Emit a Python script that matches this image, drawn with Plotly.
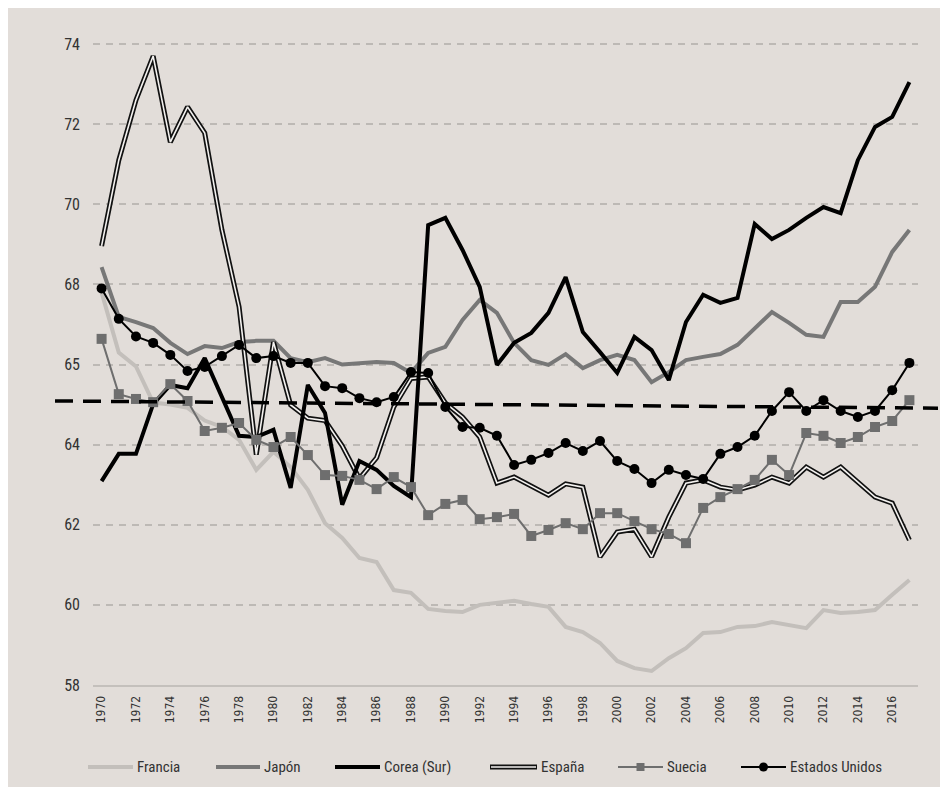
import plotly.graph_objects as go

years = list(range(1970, 2018))

francia = [67.8, 66.3, 65.95, 65.05, 65.0, 64.92, 64.6, 64.44, 64.12, 63.37,
           63.82, 63.44, 62.87, 62.04, 61.67, 61.17, 61.07, 60.37, 60.3, 59.9,
           59.85, 59.82, 60.0, 60.05, 60.1, 60.02, 59.95, 59.45, 59.32, 59.05,
           58.6, 58.42, 58.35, 58.67, 58.92, 59.3, 59.32, 59.45, 59.47, 59.57,
           59.5, 59.42, 59.87, 59.8, 59.82, 59.87, 60.25, 60.62]
japon = [68.43, 67.19, 67.06, 66.91, 66.54, 66.26, 66.46, 66.41, 66.56, 66.59,
         66.59, 66.16, 66.06, 66.16, 66.0, 66.04, 66.06, 66.04, 65.79, 66.29,
         66.44, 67.11, 67.61, 67.29, 66.54, 66.11, 65.99, 66.26, 65.91, 66.11,
         66.24, 66.11, 65.56, 65.81, 66.11, 66.19, 66.26, 66.49, 66.91, 67.31,
         67.04, 66.74, 66.69, 67.56, 67.56, 67.94, 68.81, 69.36]
corea = [63.09, 63.77, 63.77, 65.01, 65.49, 65.41, 66.16, 65.16, 64.22, 64.19,
         64.37, 62.92, 65.49, 64.79, 62.5, 63.59, 63.37, 62.97, 62.69, 69.48,
         69.66, 68.86, 67.94, 65.99, 66.54, 66.79, 67.29, 68.18, 66.81, 66.31,
         65.79, 66.69, 66.36, 65.61, 67.06, 67.74, 67.54, 67.66, 69.51, 69.13,
         69.36, 69.66, 69.93, 69.78, 71.1, 71.93, 72.18, 73.05]
espana = [68.96, 71.1, 72.6, 73.7, 71.55, 72.43, 71.78, 69.36, 67.44, 63.75,
          66.56, 64.99, 64.66, 64.6, 63.97, 63.15, 63.67, 64.94, 65.65, 65.69,
          65.04, 64.69, 64.19, 63.04, 63.19, 62.97, 62.74, 63.02, 62.94, 61.2,
          61.82, 61.89, 61.2, 62.19, 63.04, 63.12, 62.94, 62.87, 62.99, 63.19,
          63.04, 63.44, 63.19, 63.44, 63.07, 62.69, 62.54, 61.62]
suecia = [66.64, 65.26, 65.14, 65.06, 65.51, 65.09, 64.34, 64.42, 64.54, 64.12,
          63.94, 64.19, 63.74, 63.24, 63.22, 63.12, 62.89, 63.19, 62.94, 62.24,
          62.52, 62.62, 62.14, 62.19, 62.27, 61.72, 61.87, 62.04, 61.89, 62.29,
          62.29, 62.09, 61.89, 61.77, 61.54, 62.42, 62.69, 62.89, 63.12, 63.62,
          63.24, 64.29, 64.22, 64.04, 64.19, 64.44, 64.59, 65.11]
estados_unidos = [67.9, 67.14, 66.7, 66.54, 66.24, 65.84, 65.94, 66.21, 66.49, 66.16,
                  66.21, 66.04, 66.04, 65.46, 65.41, 65.16, 65.06, 65.19, 65.81, 65.79,
                  64.94, 64.44, 64.42, 64.22, 63.49, 63.62, 63.79, 64.04, 63.84, 64.09,
                  63.59, 63.39, 63.04, 63.37, 63.24, 63.14, 63.77, 63.94, 64.22, 64.84,
                  65.31, 64.84, 65.11, 64.84, 64.69, 64.84, 65.36, 66.04]

y_tickvals = [58, 60, 62, 64, 66, 68, 70, 72, 74]
y_ticktext = ["58", "60", "62", "64", "65", "68", "70", "72", "74"]
x_tickvals = list(range(1970, 2017, 2))

legend_names = ["Francia", "Japón", "Corea (Sur)", "España", "Suecia", "Estados Unidos"]

BG = "#e2ddd9"
FONT = "Liberation Sans Narrow, Roboto Condensed, Arial Narrow, Liberation Sans, sans-serif"
C_FR = "#c3bfbb"
C_JP = "#777777"
C_SE = "#6e6e6e"

fig = go.Figure()
fig.add_trace(go.Scatter(x=years, y=francia, mode="lines", line=dict(color=C_FR, width=4)))
fig.add_trace(go.Scatter(x=years, y=japon, mode="lines", line=dict(color=C_JP, width=4)))
fig.add_trace(go.Scatter(x=years, y=espana, mode="lines", line=dict(color="#111111", width=5)))
fig.add_trace(go.Scatter(x=years, y=espana, mode="lines", line=dict(color="#f4f2f0", width=1.6)))
fig.add_trace(go.Scatter(x=years, y=corea, mode="lines", line=dict(color="#000000", width=4)))
fig.add_trace(go.Scatter(x=years, y=suecia, mode="lines+markers",
                         line=dict(color=C_SE, width=2),
                         marker=dict(symbol="square", size=10, color=C_SE)))
fig.add_trace(go.Scatter(x=years, y=estados_unidos, mode="lines+markers",
                         line=dict(color="#000000", width=2),
                         marker=dict(symbol="circle", size=10, color="#000000")))

# figure sits at an 8px page offset (body margin)
OFF = 8
W, H = 932, 779
# plot area in page px: x 93..918, y 32..685
PX0, PX1, PY0, PY1 = 93, 918, 32, 685
L = PX0 - OFF
T = PY0 - OFF
R = W - (PX1 - OFF)
B = H - (PY1 - OFF)
pw, ph = PX1 - PX0, PY1 - PY0

def px_x(px):
    return (px - PX0) / pw

def px_y(py):
    return (PY1 - py) / ph

shapes = []
# reference dashed line
shapes.append(dict(type="line", xref="paper", yref="y", x0=px_x(55), x1=px_x(938),
                   y0=65.09, y1=64.91, line=dict(color="#000000", width=3.5, dash="18px,10px")))

annotations = []
ly = px_y(767)
legend_items = [
    (88, 133, legend_names[0], "fr"),
    (216, 260, legend_names[1], "jp"),
    (335, 380, legend_names[2], "kr"),
    (490, 537, legend_names[3], "es"),
    (618, 663, legend_names[4], "se"),
    (741, 786, legend_names[5], "us"),
]
for x0, x1, name, key in legend_items:
    if key == "fr":
        shapes.append(dict(type="line", xref="paper", yref="paper", x0=px_x(x0), x1=px_x(x1),
                           y0=ly, y1=ly, line=dict(color=C_FR, width=4)))
    elif key == "jp":
        shapes.append(dict(type="line", xref="paper", yref="paper", x0=px_x(x0), x1=px_x(x1),
                           y0=ly, y1=ly, line=dict(color=C_JP, width=4)))
    elif key == "kr":
        shapes.append(dict(type="line", xref="paper", yref="paper", x0=px_x(x0), x1=px_x(x1),
                           y0=ly, y1=ly, line=dict(color="#000000", width=4)))
    elif key == "es":
        shapes.append(dict(type="line", xref="paper", yref="paper", x0=px_x(x0), x1=px_x(x1),
                           y0=ly, y1=ly, line=dict(color="#111111", width=5)))
        shapes.append(dict(type="line", xref="paper", yref="paper", x0=px_x(x0 + 1), x1=px_x(x1 - 1),
                           y0=ly, y1=ly, line=dict(color="#f4f2f0", width=1.6)))
    elif key == "se":
        shapes.append(dict(type="line", xref="paper", yref="paper", x0=px_x(x0), x1=px_x(x1),
                           y0=ly, y1=ly, line=dict(color=C_SE, width=2)))
        xm = (x0 + x1) / 2
        shapes.append(dict(type="rect", xref="paper", yref="paper",
                           x0=px_x(xm - 4), x1=px_x(xm + 4), y0=px_y(771), y1=px_y(763),
                           fillcolor=C_SE, line=dict(width=0)))
    elif key == "us":
        shapes.append(dict(type="line", xref="paper", yref="paper", x0=px_x(x0), x1=px_x(x1),
                           y0=ly, y1=ly, line=dict(color="#000000", width=2)))
        xm = (x0 + x1) / 2
        shapes.append(dict(type="circle", xref="paper", yref="paper",
                           x0=px_x(xm - 4.5), x1=px_x(xm + 4.5), y0=px_y(771.5), y1=px_y(762.5),
                           fillcolor="#000000", line=dict(width=0)))
    annotations.append(dict(xref="paper", yref="paper", x=px_x(x1 + 2), y=ly, text=name,
                            showarrow=False, xanchor="left", yanchor="middle",
                            font=dict(family=FONT, size=15, color="#333333")))

fig.update_layout(
    width=W, height=H,
    margin=dict(l=L, r=R, t=T, b=B, pad=0),
    paper_bgcolor=BG,
    plot_bgcolor=BG,
    showlegend=False,
    shapes=shapes,
    annotations=annotations,
    font=dict(family=FONT, color="#333333"),
)
fig.update_xaxes(range=[1969.5, 2017.5], tickvals=x_tickvals, ticktext=[str(v) for v in x_tickvals],
                 tickangle=-90, tickfont=dict(size=12, color="#333333", family="DejaVu Sans Condensed, Liberation Sans Narrow, sans-serif"),
                 showgrid=False, zeroline=False, showline=True, linecolor="#c4c0bc", linewidth=2,
                 ticks="", ticklabelstandoff=4)
fig.update_yaxes(range=[58, 74.3], tickvals=y_tickvals, ticktext=y_ticktext,
                 tickfont=dict(size=16, color="#333333", family=FONT),
                 showgrid=True, gridcolor="#bdb9b5", gridwidth=1.5, griddash="7px,6px",
                 zeroline=False, showline=False, ticks="", ticklabelstandoff=12)

fig.write_html("out.html")
